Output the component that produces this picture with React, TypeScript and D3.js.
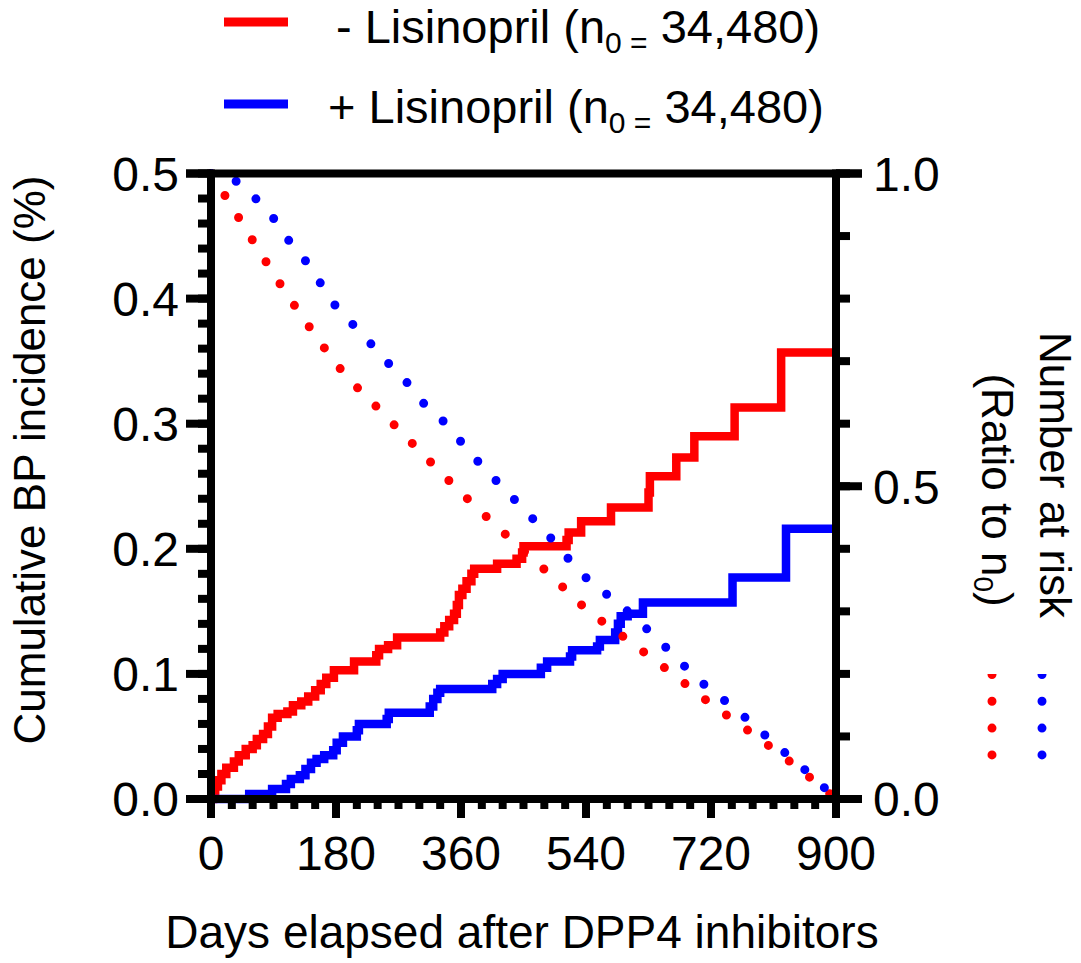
import * as d3 from "d3";

// cumulative BP incidence (%), step events: [day, value from that day on]
const minusLisinoprilSteps: [number, number][] = [
    [0, 0], [3, 0.005], [6, 0.01], [10, 0.015], [15, 0.02], [22, 0.025], [33, 0.03], [40, 0.035],
    [50, 0.04], [60, 0.043], [66, 0.048], [75, 0.052], [82, 0.058], [88, 0.065], [96, 0.068],
    [110, 0.07], [118, 0.075], [130, 0.078], [140, 0.082], [150, 0.087], [158, 0.092], [166, 0.097],
    [177, 0.103], [206, 0.11], [238, 0.115], [242, 0.12], [255, 0.123], [268, 0.129], [330, 0.133],
    [336, 0.138], [343, 0.143], [350, 0.148], [354, 0.155], [357, 0.163], [362, 0.168], [368, 0.174],
    [375, 0.18], [379, 0.184], [412, 0.188], [440, 0.192], [448, 0.197], [450, 0.202], [512, 0.207],
    [515, 0.213], [533, 0.222], [576, 0.233], [630, 0.245], [632, 0.258], [670, 0.273], [696, 0.29],
    [754, 0.313], [821, 0.357], [900, 0.357],
];
const plusLisinoprilSteps: [number, number][] = [
    [0, 0], [55, 0.004], [88, 0.008], [108, 0.012], [115, 0.016], [128, 0.019], [136, 0.024],
    [144, 0.029], [152, 0.032], [163, 0.035], [176, 0.039], [181, 0.045], [190, 0.05], [210, 0.055],
    [213, 0.06], [253, 0.064], [256, 0.069], [315, 0.074], [320, 0.08], [326, 0.085], [330, 0.088],
    [405, 0.092], [412, 0.096], [420, 0.1], [475, 0.105], [484, 0.11], [517, 0.114], [520, 0.119],
    [556, 0.122], [560, 0.127], [582, 0.133], [586, 0.14], [590, 0.146], [600, 0.148], [622, 0.157],
    [751, 0.177], [828, 0.216], [900, 0.216],
];

// number at risk, ratio to n0 (right axis)
const minusLisinoprilAtRisk: [number, number][] = [
    [0, 1.0], [20, 0.965], [60, 0.893], [101, 0.821], [144, 0.751], [189, 0.684], [242, 0.623],
    [300, 0.557], [360, 0.49], [428, 0.419], [484, 0.363], [539, 0.305], [598, 0.256], [660, 0.204],
    [719, 0.153], [779, 0.105], [838, 0.056], [900, 0.0],
];
const plusLisinoprilAtRisk: [number, number][] = [
    [0, 1.0], [37, 0.987], [66, 0.958], [91, 0.927], [112, 0.893], [137, 0.859], [158, 0.824],
    [179, 0.789], [204, 0.759], [230, 0.728], [256, 0.696], [282, 0.666], [305, 0.634], [330, 0.609],
    [380, 0.545], [435, 0.481], [487, 0.42], [536, 0.358], [593, 0.307], [649, 0.249], [701, 0.192],
    [759, 0.14], [815, 0.085], [872, 0.03], [900, 0.0],
];

const xTicks = [0, 180, 360, 540, 720, 900];
const leftTicks = [0, 0.1, 0.2, 0.3, 0.4, 0.5];
const rightTicks = [0, 0.5, 1.0];

const RED = "#ff0000";
const BLUE = "#0000ff";
const FONT = "'Liberation Sans', Arial, Helvetica, sans-serif";

export default function App() {
    const W = 1081, H = 963;
    const x = d3.scaleLinear().domain([0, 900]).range([211, 836]);
    const yL = d3.scaleLinear().domain([0, 0.5]).range([799, 173.5]);
    const yR = d3.scaleLinear().domain([0, 1]).range([799, 173.5]);

    const stepLine = d3.line<[number, number]>()
        .x((d) => x(d[0]))
        .y((d) => yL(d[1]))
        .curve(d3.curveStepAfter);
    const riskLine = d3.line<[number, number]>()
        .x((d) => x(d[0]))
        .y((d) => yR(d[1]))
        .curve(d3.curveMonotoneX);

    const sw = 8;
    const left = x(0), right = x(900), top = yR(1), bottom = yR(0);

    // minor ticks
    const leftMinor = d3.range(0, 0.5001, 0.02);
    const rightMinor = d3.range(0, 1.0001, 0.1);
    const xMinor = d3.range(0, 901, 30);

    return (
        <svg width={W} height={H} style={{ position: "absolute", left: 0, top: 0, background: "#fff" }}
            fontFamily={FONT}>
            {/* legend */}
            <g>
                <line x1={224} x2={288} y1={22} y2={22} stroke={RED} strokeWidth={9} />
                <text x={336} y={43} fontSize={47} fill="#000">
                    - Lisinopril (n<tspan fontSize={30} dy={10}>0 =</tspan><tspan dy={-10}> 34,480)</tspan>
                </text>
                <line x1={224} x2={288} y1={104} y2={104} stroke={BLUE} strokeWidth={9} />
                <text x={328} y={123} fontSize={47} fill="#000">
                    + Lisinopril (n<tspan fontSize={30} dy={10}>0 =</tspan><tspan dy={-10}> 34,480)</tspan>
                </text>
            </g>

            {/* step curves */}
            <path d={stepLine(minusLisinoprilSteps)!} fill="none" stroke={RED} strokeWidth={8.5} />
            <path d={stepLine(plusLisinoprilSteps)!} fill="none" stroke={BLUE} strokeWidth={8.5} />

            {/* number at risk, dotted */}
            <path d={riskLine(minusLisinoprilAtRisk)!} fill="none" stroke={RED} strokeWidth={9}
                strokeLinecap="round" strokeDasharray="0 26" />
            <path d={riskLine(plusLisinoprilAtRisk)!} fill="none" stroke={BLUE} strokeWidth={9}
                strokeLinecap="round" strokeDasharray="0 26.5" />

            {/* frame */}
            <g stroke="#000" strokeWidth={sw} fill="none">
                <line x1={186} x2={862} y1={top} y2={top} />
                <line x1={186} x2={862} y1={bottom} y2={bottom} />
                <line x1={left} x2={left} y1={top - sw / 2} y2={bottom + sw / 2} />
                <line x1={right} x2={right} y1={top - sw / 2} y2={bottom + sw / 2} />
                {/* left axis ticks */}
                {leftMinor.map((v) => (
                    <line key={"lm" + v} x1={left - 13} x2={left} y1={yL(v)} y2={yL(v)} />
                ))}
                {leftTicks.map((v) => (
                    <line key={"lM" + v} x1={left - 25} x2={left} y1={yL(v)} y2={yL(v)} />
                ))}
                {/* right axis ticks */}
                {rightMinor.map((v) => (
                    <line key={"rm" + v} x1={right} x2={right + 14} y1={yR(v)} y2={yR(v)} />
                ))}
                {rightTicks.map((v) => (
                    <line key={"rM" + v} x1={right} x2={right + 26} y1={yR(v)} y2={yR(v)} />
                ))}
                {/* bottom ticks */}
                {xMinor.map((v) => (
                    <line key={"xm" + v} x1={x(v)} x2={x(v)} y1={bottom} y2={bottom + 10} />
                ))}
                {xTicks.map((v) => (
                    <line key={"xM" + v} x1={x(v)} x2={x(v)} y1={bottom} y2={bottom + 19} />
                ))}
            </g>

            {/* tick labels */}
            <g fontSize={48} fill="#000">
                {leftTicks.map((v) => (
                    <text key={"lt" + v} x={179} y={yL(v)} dy="0.36em" textAnchor="end">{v.toFixed(1)}</text>
                ))}
                {rightTicks.map((v) => (
                    <text key={"rt" + v} x={873} y={yR(v)} dy="0.36em" textAnchor="start">{v.toFixed(1)}</text>
                ))}
                {xTicks.map((v) => (
                    <text key={"xt" + v} x={x(v)} y={870} textAnchor="middle">{v}</text>
                ))}
            </g>

            {/* axis titles */}
            <text x={522} y={948} fontSize={46} textAnchor="middle">Days elapsed after DPP4 inhibitors</text>
            <text transform="translate(45,460) rotate(-90)" fontSize={44} textAnchor="middle">
                Cumulative BP incidence (%)
            </text>
            <text transform="translate(1040,475) rotate(90)" fontSize={44} textAnchor="middle">
                Number at risk
            </text>
            <text transform="translate(982,490) rotate(90)" fontSize={44} textAnchor="middle">
                (Ratio to n<tspan fontSize={28} dy={8}>0</tspan><tspan dy={-8}>)</tspan>
            </text>

            {/* at-risk legend marks */}
            <line x1={992} x2={992} y1={674.5} y2={760} stroke={RED} strokeWidth={9}
                strokeLinecap="round" strokeDasharray="0 26.8" />
            <line x1={1042} x2={1042} y1={674.5} y2={760} stroke={BLUE} strokeWidth={9}
                strokeLinecap="round" strokeDasharray="0 26.8" />
            <rect x={980} y={660} width={80} height={14} fill="#fff" />
        </svg>
    );
}
